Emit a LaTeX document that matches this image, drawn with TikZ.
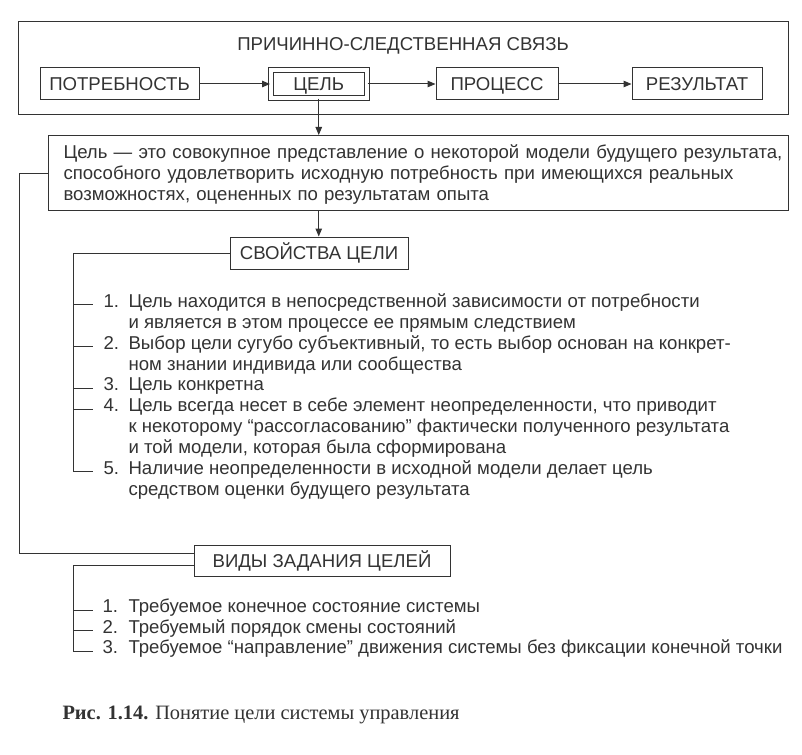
\documentclass[tikz,border=0pt]{standalone}
\usepackage{fontspec}
\setmainfont{Liberation Sans}
\newfontfamily\capfont{Liberation Serif}
\usetikzlibrary{arrows.meta}

\begin{document}
\begin{tikzpicture}[x=1pt, y=-1pt, line width=1pt, color=black!80,
		box/.style={draw, rectangle, inner sep=0pt, text height=13.4pt, text depth=0pt, font=\fontsize{18.6}{21.3}\selectfont},
		head/.style={inner sep=0pt, text height=13.4pt, text depth=0pt, font=\fontsize{18.6}{21.3}\selectfont},
		arr/.style={-{Triangle[length=8pt,width=6.5pt]}},
		item/.style={inner xsep=10pt, inner ysep=0pt, anchor=base west, font=\fontsize{18.6}{20.83}\selectfont}]
			\fill[white] (0,0) rectangle (802,754);
			\useasboundingbox (0,0) rectangle (802,754);
			\node[box, minimum width=770, minimum height=93] (frame) at (403,68.5) {};
			\node[head] (title) at (403,44) {ПРИЧИННО-СЛЕДСТВЕННАЯ СВЯЗЬ};
			\node[box, minimum width=159, minimum height=32] (potr) at (119.5,84) {ПОТРЕБНОСТЬ};
			\node[box, double, double distance=4pt, minimum width=96.5, minimum height=28.5] (cel) at (318.75,84) {ЦЕЛЬ};
			\node[box, minimum width=122, minimum height=32] (proc) at (497,84) {ПРОЦЕСС};
			\node[box, minimum width=130, minimum height=32] (rez) at (697,84) {РЕЗУЛЬТАТ};
			\draw[arr] (potr.east) -- (cel.west);
			\draw[arr] (cel.east) -- (proc.west);
			\draw[arr] (proc.east) -- (rez.west);
			\node[draw, rectangle, anchor=north west, minimum width=740, minimum height=75, text width=710, inner xsep=15pt, inner ysep=0pt, align=left, font=\fontsize{18.6}{21}\selectfont] (def) at (48,135) {\raisebox{-2.5pt}[\height][\depth]{\begin{tabular}{@{}l@{}}Цель — это совокупное представление о некоторой модели будущего результата,\\ способного удовлетворить исходную потребность при имеющихся реальных\\ возможностях, оцененных по результатам опыта\end{tabular}}};
			\draw[arr] (cel.south) -- (cel.south |- def.north);
			\node[box, minimum width=178, minimum height=32] (sv) at (319,253) {СВОЙСТВА ЦЕЛИ};
			\draw[arr] (cel.south |- def.south) -- (cel.south |- sv.north);
			\node[item] (p1) at (93,307.5) {\begin{tabular}[t]{@{}l@{\hspace{9.5pt}}l@{}}1. & Цель находится в непосредственной зависимости от потребности\\ & и является в этом процессе ее прямым следствием\end{tabular}};
			\node[item] (p2) at (93,349.2) {\begin{tabular}[t]{@{}l@{\hspace{9.5pt}}l@{}}2. & Выбор цели сугубо субъективный, то есть выбор основан на конкрет-\\ & ном знании индивида или сообщества\end{tabular}};
			\node[item] (p3) at (93,390.8) {\begin{tabular}[t]{@{}l@{\hspace{9.5pt}}l@{}}3. & Цель конкретна\end{tabular}};
			\node[item] (p4) at (93,411.7) {\begin{tabular}[t]{@{}l@{\hspace{9.5pt}}l@{}}4. & Цель всегда несет в себе элемент неопределенности, что приводит\\ & к некоторому “рассогласованию” фактически полученного результата\\ & и той модели, которая была сформирована\end{tabular}};
			\node[item] (p5) at (93,474.2) {\begin{tabular}[t]{@{}l@{\hspace{9.5pt}}l@{}}5. & Наличие неопределенности в исходной модели делает цель\\ & средством оценки будущего результата\end{tabular}};
			\coordinate (b1) at (73,0);
			\draw (sv.west) -| (b1 |- p5.mid west) -- (p5.mid west);
			\foreach \i in {1,...,4}
				\draw (b1 |- p\i.mid west) -- (p\i.mid west);
			\node[box, minimum width=256, minimum height=31] (vid) at (322,560.5) {ВИДЫ ЗАДАНИЯ ЦЕЛЕЙ};
			\coordinate (c1) at (19,553);
			\draw (def.west) -| (c1) -- (c1 -| vid.west);
			\node[item, inner xsep=9pt] (v1) at (93,612.8) {\begin{tabular}[t]{@{}l@{\hspace{10.5pt}}l@{}}1. & Требуемое конечное состояние системы\end{tabular}};
			\node[item, inner xsep=9pt] (v2) at (93,633.3) {\begin{tabular}[t]{@{}l@{\hspace{10.5pt}}l@{}}2. & Требуемый порядок смены состояний\end{tabular}};
			\node[item, inner xsep=9pt] (v3) at (93,653.8) {\begin{tabular}[t]{@{}l@{\hspace{10.5pt}}l@{}}3. & Требуемое “направление” движения системы без фиксации конечной точки\end{tabular}};
			\coordinate (b2) at (73,0);
			\draw ([yshift=-4.5pt]vid.west) -| (b2 |- v3.mid west) -- (v3.mid west);
			\foreach \i in {1,2}
				\draw (b2 |- v\i.mid west) -- (v\i.mid west);
			\node[inner sep=0pt, anchor=base west, font=\capfont\fontsize{20.4}{24}\selectfont] (cap) at (62,719) {\textbf{Рис. 1.14.} Понятие цели системы управления};
		\end{tikzpicture}
\end{document}
